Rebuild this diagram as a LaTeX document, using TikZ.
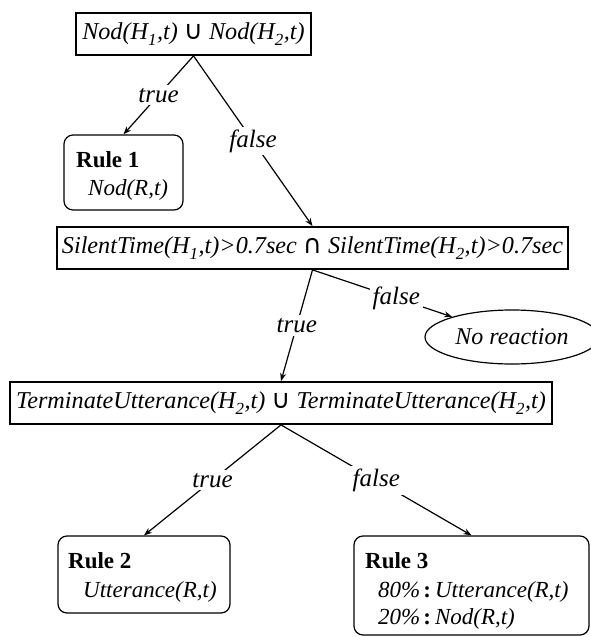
\documentclass[tikz,border=0pt]{standalone}
\usepackage{fontspec}
\setmainfont{Liberation Serif}
\newfontfamily\symf{DejaVu Sans}
\usetikzlibrary{shapes.geometric,arrows.meta}
\newcommand{\sbs}[1]{\raisebox{-1.5pt}{\textsubscript{\itshape #1}}}
\newcommand{\cupsym}{{\symf\upshape\fontsize{26}{27}\selectfont ∪}}
\newcommand{\capsym}{{\symf\upshape\fontsize{26}{27}\selectfont ∩}}
\newcommand{\pcolon}{\hspace{3pt}\textbf{\upshape :}\hspace{4pt}}
\begin{document}
\begin{tikzpicture}[x=1pt,y=-1pt,
  every node/.style={font=\fontsize{23}{27}\selectfont},
  cond/.style={draw, line width=1.8pt, inner sep=0pt, minimum height=42pt, font=\fontsize{24.2}{27}\selectfont\itshape},
  rulebox/.style={draw, line width=1.2pt, rounded corners=9pt, inner sep=0pt},
  txt/.style={anchor=base west, inner sep=0pt},
  arr/.style={line width=1.2pt, -{Stealth[length=8pt,width=6pt]}},
  lbl/.style={fill=white, inner sep=3pt, font=\fontsize{25}{27}\selectfont\itshape},
]
\useasboundingbox (0,0) rectangle (590,637);
\node[cond, minimum width=235pt] (c1) at (193.5,34) {Nod(H\sbs{1},t) \cupsym{} Nod(H\sbs{2},t)};
\node[cond, minimum width=511pt] (c2) at (312.5,248) {SilentTime(H\sbs{1},t)>0.7sec \capsym{} SilentTime(H\sbs{2},t)>0.7sec};
\node[cond, minimum width=542pt] (c3) at (281,403) {TerminateUtterance(H\sbs{2},t) \cupsym{} TerminateUtterance(H\sbs{2},t)};

\node[rulebox, minimum width=119pt, minimum height=75pt] (r1) at (123.5,172.5) {};
\node[txt] (r1a) at (76,167) {\bfseries Rule 1};
\node[txt] (r1b) at (88,195) {\itshape Nod(R,t)};

\node[rulebox, minimum width=172pt, minimum height=77pt] (r2) at (144,574.5) {};
\node[txt] (r2a) at (68,568) {\bfseries Rule 2};
\node[txt] (r2b) at (83,597) {\itshape Utterance(R,t)};

\node[rulebox, minimum width=235pt, minimum height=99pt] (r3) at (471.5,585.5) {};
\node[txt] (r3a) at (365,568) {\bfseries Rule 3};
\node[txt] (r3b) at (378,597) {\itshape 80\%\pcolon Utterance(R,t)};
\node[txt] (r3c) at (378,624) {\itshape 20\%\pcolon Nod(R,t)};

\node[draw, ellipse, line width=1.2pt, minimum width=174pt, minimum height=54pt, inner sep=0pt, font=\fontsize{24}{27}\selectfont\itshape] (nr) at (512,337) {No reaction};

\draw[arr] (c1.south) -- node[lbl] {true} (r1.north);
\draw[arr] (c1.south) -- node[lbl] {false} (c2.north);
\draw[arr] (c2.south) -- node[lbl] {true} (c3.north);
\draw[arr] (c2.south) -- node[lbl, pos=0.6] {false} (nr);
\draw[arr] (c3.south) -- node[lbl] {true} (r2.north);
\draw[arr] (c3.south) -- node[lbl] {false} (r3.north);
\end{tikzpicture}
\end{document}
